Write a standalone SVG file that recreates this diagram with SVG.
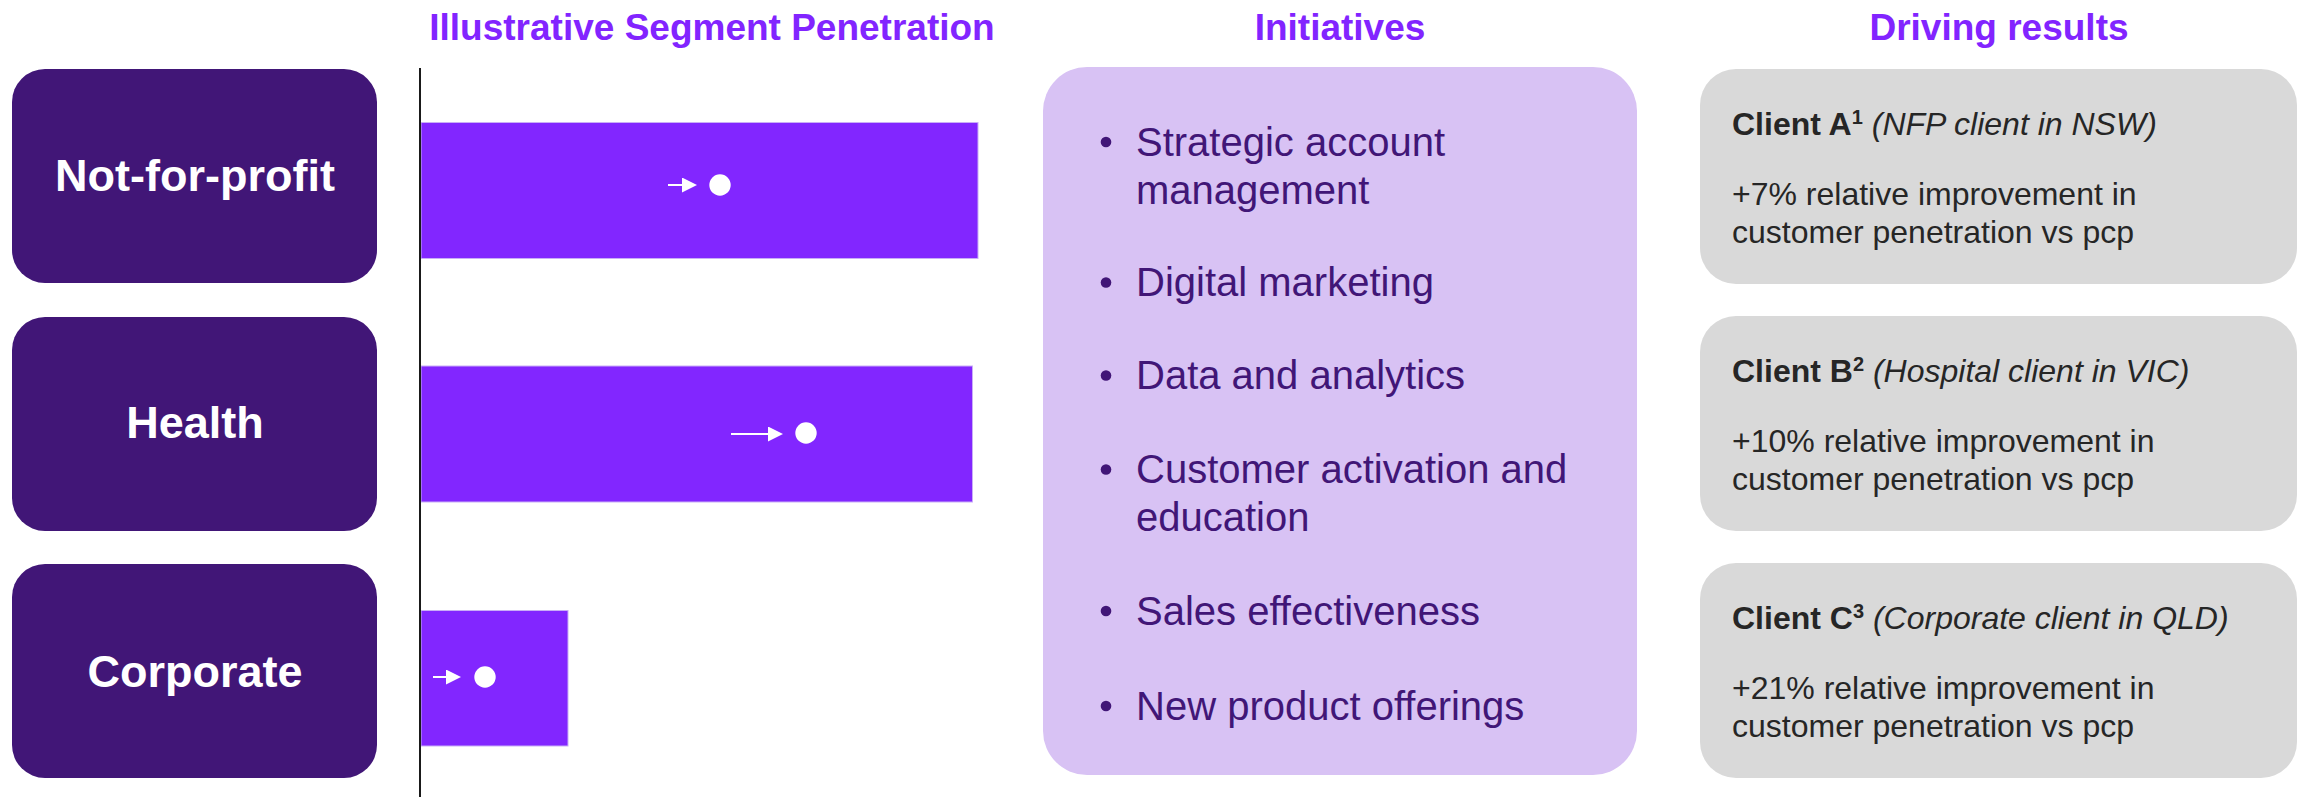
<svg xmlns="http://www.w3.org/2000/svg" width="2310" height="797" viewBox="0 0 2310 797">
  <style>
    .head { font-family: "Liberation Sans", Arial, sans-serif; font-weight: bold; font-size: 37px; fill: #8224FF; text-anchor: middle; }
    .seg rect { fill: #411677; }
    .seg text { font-family: "Liberation Sans", Arial, sans-serif; font-weight: bold; font-size: 45px; fill: #FFFFFF; text-anchor: middle; }
    .bar { fill: #8226FF; stroke: #C9AEF7; stroke-width: 1; }
    .mark line { stroke: #FFFFFF; stroke-width: 2; }
    .mark circle { fill: #FFFFFF; }
    .init rect { fill: #D8C2F4; }
    .init text { font-family: "Liberation Sans", Arial, sans-serif; font-size: 40px; fill: #411677; }
    .init circle { fill: #411677; }
    .client rect { fill: #D9D9D9; }
    .client text { font-family: "Liberation Sans", Arial, sans-serif; font-size: 32px; fill: #262626; }
    .client .name { font-weight: bold; }
    .client .sup { font-weight: bold; font-size: 20px; }
    .client .note { font-style: italic; }
  </style>
  <defs>
    <marker id="tri" markerUnits="userSpaceOnUse" markerWidth="16" markerHeight="16" refX="0" refY="7.5" orient="auto">
      <path d="M0,0 L15,7.5 L0,15 Z" fill="#FFFFFF"/>
    </marker>
  </defs>

  <rect width="2310" height="797" fill="#FFFFFF"/>

  <!-- column headings -->
  <text class="head" x="712" y="40">Illustrative Segment Penetration</text>
  <text class="head" x="1340" y="40">Initiatives</text>
  <text class="head" x="1999" y="40">Driving results</text>

  <!-- segment labels -->
  <g id="seg-nfp" class="seg">
    <rect x="12" y="69" width="365" height="214" rx="33" ry="33"/>
    <text x="195" y="191">Not-for-profit</text>
  </g>
  <g id="seg-health" class="seg">
    <rect x="12" y="317" width="365" height="214" rx="33" ry="33"/>
    <text x="195" y="438">Health</text>
  </g>
  <g id="seg-corporate" class="seg">
    <rect x="12" y="564" width="365" height="214" rx="33" ry="33"/>
    <text x="195" y="687">Corporate</text>
  </g>

  <!-- penetration bars -->
  <g id="bar-nfp">
    <rect class="bar" x="421" y="122.5" width="557" height="136"/>
  </g>
  <g id="bar-health">
    <rect class="bar" x="421" y="366" width="551.5" height="136"/>
  </g>
  <g id="bar-corporate">
    <rect class="bar" x="421" y="610.5" width="147" height="135.5"/>
  </g>

  <!-- axis -->
  <line x1="420" y1="68" x2="420" y2="797" stroke="#1A1A1A" stroke-width="2"/>

  <!-- movement markers on bars -->
  <g id="connectors" class="mark">
    <line x1="668" y1="185" x2="682" y2="185" marker-end="url(#tri)"/>
    <circle cx="720" cy="185" r="10.7"/>
    <line x1="731" y1="434" x2="768" y2="434" marker-end="url(#tri)"/>
    <circle cx="806" cy="433" r="10.7"/>
    <line x1="433" y1="677" x2="446" y2="677" marker-end="url(#tri)"/>
    <circle cx="485" cy="677" r="10.7"/>
  </g>

  <!-- initiatives list -->
  <g id="initiatives" class="init">
    <rect x="1043" y="67" width="594" height="708" rx="44" ry="44"/>
    <circle cx="1106" cy="142" r="5.3"/>
    <text x="1136" y="156">Strategic account</text>
    <text x="1136" y="204">management</text>
    <circle cx="1106" cy="282.5" r="5.3"/>
    <text x="1136" y="296">Digital marketing</text>
    <circle cx="1106" cy="375.5" r="5.3"/>
    <text x="1136" y="389">Data and analytics</text>
    <circle cx="1106" cy="469.5" r="5.3"/>
    <text x="1136" y="483">Customer activation and</text>
    <text x="1136" y="531">education</text>
    <circle cx="1106" cy="611" r="5.3"/>
    <text x="1136" y="625">Sales effectiveness</text>
    <circle cx="1106" cy="706" r="5.3"/>
    <text x="1136" y="720">New product offerings</text>
  </g>

  <!-- client results -->
  <g id="client-a" class="client">
    <rect x="1700" y="69" width="597" height="215" rx="36" ry="36"/>
    <text x="1732" y="135"><tspan class="name">Client A</tspan><tspan class="sup" dy="-11">1</tspan><tspan class="note" dy="11"> (NFP client in NSW)</tspan></text>
    <text x="1732" y="205">+7% relative improvement in</text>
    <text x="1732" y="243">customer penetration vs pcp</text>
  </g>
  <g id="client-b" class="client">
    <rect x="1700" y="316" width="597" height="215" rx="36" ry="36"/>
    <text x="1732" y="382"><tspan class="name">Client B</tspan><tspan class="sup" dy="-11">2</tspan><tspan class="note" dy="11"> (Hospital client in VIC)</tspan></text>
    <text x="1732" y="452">+10% relative improvement in</text>
    <text x="1732" y="490">customer penetration vs pcp</text>
  </g>
  <g id="client-c" class="client">
    <rect x="1700" y="563" width="597" height="215" rx="36" ry="36"/>
    <text x="1732" y="629"><tspan class="name">Client C</tspan><tspan class="sup" dy="-11">3</tspan><tspan class="note" dy="11"> (Corporate client in QLD)</tspan></text>
    <text x="1732" y="699">+21% relative improvement in</text>
    <text x="1732" y="737">customer penetration vs pcp</text>
  </g>
</svg>
